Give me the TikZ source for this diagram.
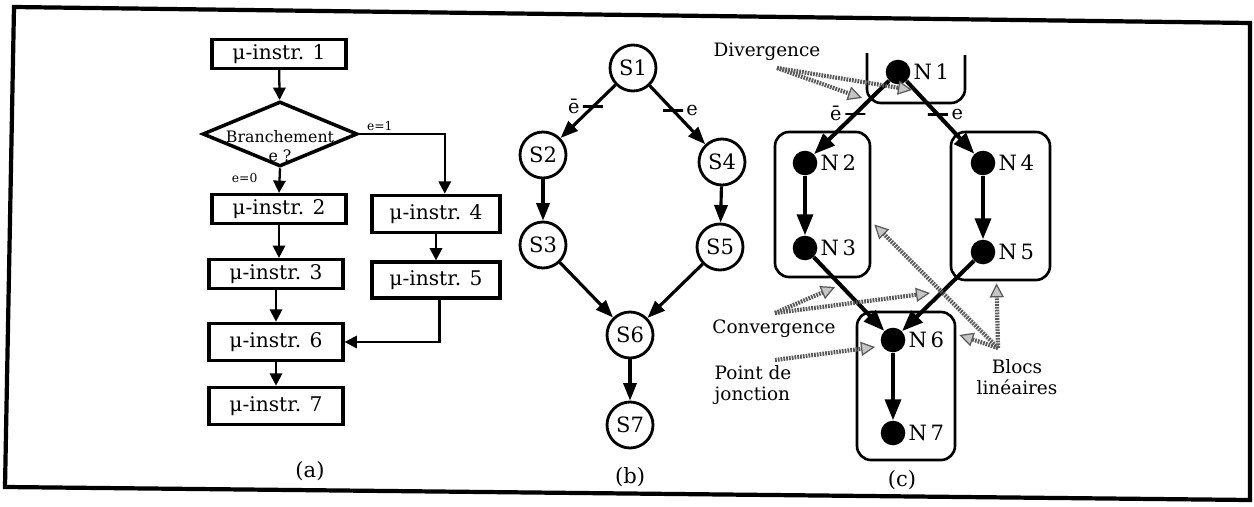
\documentclass[tikz,border=0pt]{standalone}
\usepackage{fontspec}
\setmainfont{DejaVu Serif}
\usetikzlibrary{positioning,arrows.meta,calc,shapes.geometric,fit}

\begin{document}
\begin{tikzpicture}[
    x=0.02cm, y=-0.02cm,
    instr/.style={draw, line width=1.8pt, minimum width=2.68cm, minimum height=0.58cm,
                  inner sep=2pt, font=\fontsize{11.5}{13}\selectfont},
    losange/.style={draw, diamond, line width=2pt, minimum width=3.1cm,
                    minimum height=1.3cm, inner sep=0pt},
    etat/.style={draw, circle, line width=1.6pt, minimum size=0.92cm, inner sep=0pt,
                 font=\fontsize{12}{14}\selectfont},
    noeud/.style={circle, fill=black, minimum size=14pt, inner sep=0pt},
    bloc/.style={draw, line width=1.5pt, rounded corners=8pt},
    trait/.style={draw, line width=1.5pt, minimum width=0.4cm, minimum height=0pt,
                  inner sep=0pt, outer sep=0pt},
    cond/.style={font=\fontsize{7}{8}\selectfont, inner sep=1pt},
    lbl/.style={font=\fontsize{11}{12}\selectfont, inner sep=1pt},
    nlab/.style={font=\fontsize{12}{14}\selectfont, inner sep=1.5pt},
    note/.style={font=\fontsize{10.5}{12}\selectfont, align=left},
    fleche/.style={-{Triangle[length=7pt, width=7pt]}, line width=1.3pt},
    flecheb/.style={-{Triangle[length=10pt, width=7.5pt]}, line width=1.8pt},
    flechec/.style={-{Triangle[length=12pt, width=9pt]}, line width=2.3pt},
    renvoi/.style={-{Triangle[length=8pt, width=8pt, line width=0.7pt, fill=gray!45]},
                   draw=black!65, line width=2.4pt, dash pattern=on 1pt off 0.6pt}
]
\useasboundingbox (0,0) rectangle (1254,507);
\draw[line width=2.4pt] (14,7) -- (1250,23) -- (1250,500) -- (5,487) -- cycle;

% (a) organigramme
\node[instr]                                              (i1) at (279,54)  {μ-instr. 1};
\node[losange]                                            (br) at (280,134) {};
\node[font=\fontsize{9}{10.5}\selectfont, align=center]   (brt) at (280,146) {Branchement\\e ?};
\node[instr]                                              (i2) at (279,209) {μ-instr. 2};
\node[instr]                                              (i3) at (276,274) {μ-instr. 3};
\node[instr, minimum height=0.75cm]                       (i6) at (276,342) {μ-instr. 6};
\node[instr, minimum height=0.75cm]                       (i7) at (276,406) {μ-instr. 7};
\node[instr, minimum width=2.56cm, minimum height=0.75cm] (i4) at (436,214) {μ-instr. 4};
\node[instr, minimum width=2.56cm, minimum height=0.72cm] (i5) at (436,280) {μ-instr. 5};

\draw[fleche] (i1) -- (br);
\draw[fleche] (br.south) -- node[cond, left=11pt, pos=0.4] {e=0} (i2.north);
\draw[fleche] (br.east) -| node[cond, above, pos=0.12] {e=1} ([xshift=5pt]i4.north);
\draw[fleche] (i2.south) -- (i2.south |- i3.north);
\draw[fleche] (i3.south) -- (i3.south |- i6.north);
\draw[fleche] (i6.south) -- (i6.south |- i7.north);
\draw[fleche] (i4) -- (i5);
\draw[fleche] ([xshift=2pt]i5.south) |- (i6.east);

\node[font=\fontsize{12}{14}\selectfont] (lega) at (310,471) {(a)};

% (b) graphe d'etats
\node[etat] (S1) at (633,68)  {S1};
\node[etat] (S2) at (543,155) {S2};
\node[etat] (S3) at (543,245) {S3};
\node[etat] (S4) at (722,162) {S4};
\node[etat] (S5) at (720,247) {S5};
\node[etat] (S6) at (630,335) {S6};
\node[etat] (S7) at (630,425) {S7};

\draw[flecheb] (S1) -- node[trait, pos=0.41, label={[lbl]left:\=e}] {} (S2);
\draw[flecheb] (S1) -- node[trait, pos=0.42, label={[lbl]right:e}] {} (S4);
\draw[flecheb] (S2) -- (S3);
\draw[flecheb] (S4) -- (S5);
\draw[flecheb] (S3) -- (S6);
\draw[flecheb] (S5) -- (S6);
\draw[flecheb] (S6) -- (S7);

\node[font=\fontsize{12}{14}\selectfont] (legb) at (630,477) {(b)};

% (c) graphe de noeuds et blocs lineaires
\node[noeud, label={[nlab]right:N\,1}] (N1) at (898,72)  {};
\node[noeud, label={[nlab]right:N\,2}] (N2) at (805,163) {};
\node[noeud, label={[nlab]right:N\,3}] (N3) at (805,248) {};
\node[noeud, label={[nlab]right:N\,4}] (N4) at (983,163) {};
\node[noeud, label={[nlab]right:N\,5}] (N5) at (983,252) {};
\node[noeud, label={[nlab]right:N\,6}] (N6) at (893,340) {};
\node[noeud, label={[nlab]right:N\,7}] (N7) at (893,433) {};

\node[bloc, fit={(775,132) (870,277)}, inner sep=0pt]  (b23) {};
\node[bloc, fit={(951,132) (1050,280)}, inner sep=0pt] (b45) {};
\node[bloc, fit={(857,312) (955,460)}, inner sep=0pt]  (b67) {};
\draw[bloc] (867,53) -- (867,103) -- (965,103) -- (965,55);

\draw[flechec] (N1) -- node[trait, pos=0.45, label={[lbl]left:\=e}] {} (N2);
\draw[flechec] (N1) -- node[trait, pos=0.46, label={[lbl]right:e}] {} (N4);
\draw[flechec] (N2) -- (N3);
\draw[flechec] (N4) -- (N5);
\draw[flechec] (N3) -- (N6);
\draw[flechec] (N5) -- (N6);
\draw[flechec] (N6) -- (N7);

% renvois
\node[note]               (div)   at (767,52)   {Divergence};
\node[note]               (conv)  at (774,329)  {Convergence};
\node[note]               (jonc)  at (753,385)  {Point de\\jonction};
\node[note, align=center] (blocs) at (1017,377) {Blocs\\linéaires};

\coordinate (divO)   at (777,68);
\coordinate (divA)   at (862,98);
\coordinate (divB)   at (912,90);
\coordinate (convO)  at (775,313);
\coordinate (convA)  at (835,287);
\coordinate (convB)  at (930,293);
\coordinate (joncO)  at (775,360);
\coordinate (joncA)  at (875,347);
\coordinate (blocsO) at (998,348);

\draw[renvoi] (divO) -- (divA);
\draw[renvoi] (divO) -- (divB);
\draw[renvoi] (convO) -- (convA);
\draw[renvoi] (convO) -- (convB);
\draw[renvoi] (joncO) -- (joncA);
\draw[renvoi] (blocsO) -- ($(b23.east)+(3,20)$);
\draw[renvoi] (blocsO) -- ($(b45.south)+(-4,2)$);
\draw[renvoi] (blocsO) -- ($(b67.east)+(3,-51)$);

\node[font=\fontsize{12}{14}\selectfont] (legc) at (902,480) {(c)};

\end{tikzpicture}
\end{document}
